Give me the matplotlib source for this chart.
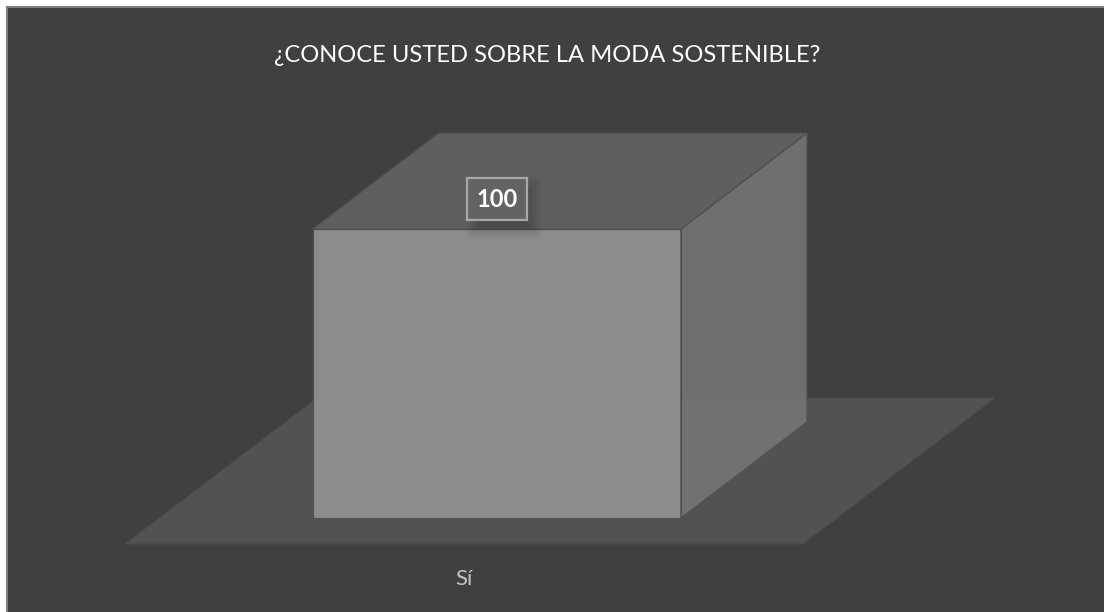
import matplotlib
matplotlib.use("Agg")
import matplotlib.pyplot as plt
from matplotlib.patches import Polygon, Rectangle

plt.rcParams['font.family'] = ['Lato', 'DejaVu Sans']

title = "¿CONOCE USTED SOBRE LA MODA SOSTENIBLE?"
categories = ["Sí"]
values = [100]

W, H = 1104, 612
# how far the floor goes back, in x categories and y units
DEPTH_X = 0.283
DEPTH_Y = 50.5
BAR_WIDTH = 0.543
BAR_SHIFT = -0.002
BAR_NEAR = 0.178
BAR_FAR = 0.835
PX_X = 1 / 678
PX_Y = 100 / 289


def shear(x, y, d):
    return (x + DEPTH_X * d, y + DEPTH_Y * d)


fig = plt.figure(figsize=(W / 100, H / 100), dpi=100, facecolor="white")

# dark chart area with a grey edge, runs off right and bottom
fig.patches.append(Rectangle((7 / W, -0.01), 1, 1.01 - 7 / H, transform=fig.transFigure,
                             facecolor="#404040", edgecolor="#7f7f7f", linewidth=1.5, zorder=-1))

ax = fig.add_axes([125 / W, (H - 544) / H, 678 / W, 289 / H])
ax.set_xlim(-0.5, 0.5)
ax.set_ylim(0, 100)
ax.patch.set_visible(False)
for s in ax.spines.values():
    s.set_visible(False)
ax.set_yticks([])
ax.set_xticks(range(len(categories)))
ax.set_xticklabels(categories, fontsize=16, color="#c4c4c4")
ax.tick_params(axis="x", length=0, pad=18)

# floor
floor = [shear(-0.5, 0, 0), shear(0.5, 0, 0), shear(0.5, 0, 1), shear(-0.5, 0, 1)]
ax.add_patch(Polygon(floor, closed=True, facecolor="#525252", edgecolor="#4a4a4a",
                     linewidth=0.8, clip_on=False, zorder=1))

for i, v in enumerate(values):
    x0 = i - BAR_WIDTH / 2 + BAR_SHIFT
    x1 = i + BAR_WIDTH / 2 + BAR_SHIFT
    front = [shear(x0, 0, BAR_NEAR), shear(x1, 0, BAR_NEAR), shear(x1, v, BAR_NEAR), shear(x0, v, BAR_NEAR)]
    side = [shear(x1, 0, BAR_NEAR), shear(x1, 0, BAR_FAR), shear(x1, v, BAR_FAR), shear(x1, v, BAR_NEAR)]
    top = [shear(x0, v, BAR_NEAR), shear(x1, v, BAR_NEAR), shear(x1, v, BAR_FAR), shear(x0, v, BAR_FAR)]
    ax.add_patch(Polygon(side, closed=True, facecolor="#767676", alpha=0.88, edgecolor="none", clip_on=False, zorder=2))
    ax.add_patch(Polygon(top, closed=True, facecolor="#636363", alpha=0.9, edgecolor="none", clip_on=False, zorder=2))
    ax.add_patch(Polygon(front, closed=True, facecolor="#909090", alpha=0.96, edgecolor="none", clip_on=False, zorder=3))
    for face in (side, top, front):
        ax.add_patch(Polygon(face, closed=True, fill=False, edgecolor="#525252", linewidth=0.9, clip_on=False, zorder=4))

    # label sits over the middle of the front face, a little above its top edge
    cx, cy = shear(i + BAR_SHIFT, v, BAR_NEAR)

    # soft shadow under the label, built up from faint boxes
    for grow in range(1, 15):
        half_w = (40 - grow * 1.6)
        half_h = (33 - grow * 1.6)
        ax.add_patch(Rectangle((cx + (7 - half_w) * PX_X, cy + (21 - half_h) * PX_Y),
                               2 * half_w * PX_X, 2 * half_h * PX_Y,
                               facecolor="black", alpha=0.016, edgecolor="none", clip_on=False, zorder=5))
    ax.text(cx, cy + 30 * PX_Y, str(v), ha="center", va="center", fontsize=17, fontweight="bold",
            color="white", zorder=6, clip_on=False,
            bbox=dict(boxstyle="square", pad=0.4, facecolor="#636363", edgecolor="#a8a8a8", linewidth=1.6))

fig.text(547 / W, 1 - 56 / H, title, ha="center", va="center", fontsize=17.1, color="white")

fig.savefig("out.png", dpi=100, facecolor=fig.get_facecolor())
